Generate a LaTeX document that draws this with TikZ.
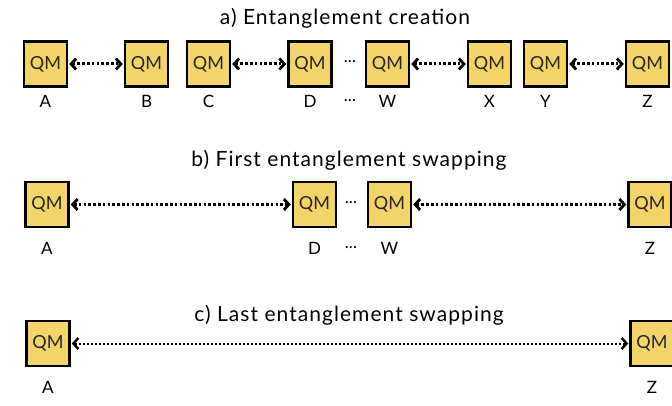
\documentclass[tikz,border=0pt]{standalone}
\usepackage{fontspec}
\setmainfont{Lato}
\newfontfamily\ttlfont[LetterSpace=5]{Lato}
\usetikzlibrary{arrows.meta}
\definecolor{qmfill}{HTML}{F3D46A}
\begin{document}
\begin{tikzpicture}[x=1pt,y=1pt,
  qm/.style={draw=black,line width=2.5pt,fill=qmfill,minimum width=43pt,minimum height=45pt,inner sep=0pt,font=\fontsize{18}{18}\selectfont,text=black!85},
  lab/.style={font=\fontsize{17}{17}\selectfont},
  ttl/.style={font=\ttlfont\fontsize{21}{21}\selectfont},
  link/.style={line width=3pt,dash pattern=on 2.6pt off 2.2pt,{Straight Barb[length=5pt,width=11pt,line width=2.8pt]}-{Straight Barb[length=5pt,width=11pt,line width=2.8pt]},shorten <=1pt,shorten >=1pt},
  thin link/.style={line width=2pt,dash pattern=on 2pt off 2pt,{Straight Barb[length=5pt,width=11pt,line width=2.4pt]}-{Straight Barb[length=5pt,width=11pt,line width=2.4pt]},shorten <=1pt,shorten >=1pt}
]
\useasboundingbox (0,0) rectangle (672,-406);
% row a
\node[ttl] (ta) at (345,-18) {a) Entanglement creation};
\foreach \n/\x in {A/45.5,B/146.5,C/208.5,D/310,W/387.5,X/489.5,Y/545.5,Z/647.5}{
  \node[qm] (a\n) at (\x,-64) {QM};
  \node[lab] (la\n) at (\x,-101) {\n};
}
\node[lab] (adots) at (350,-62) {...};
\node[lab] (aldots) at (350,-101) {...};
\draw[link] (aA) -- (aB);
\draw[link] (aC) -- (aD);
\draw[link] (aW) -- (aX);
\draw[link] (aY) -- (aZ);
% row b
\node[ttl] (tb) at (349,-160) {b) First entanglement swapping};
\foreach \n/\x in {A/47,D/314.5,W/389.5,Z/650}{
  \node[qm] (b\n) at (\x,-204.5) {QM};
  \node[lab] (lb\n) at (\x,-248) {\n};
}
\node[lab] (bdots) at (351,-203) {...};
\node[lab] (bldots) at (351,-248) {...};
\draw[link] (bA) -- (bD);
\draw[link] (bW) -- (bZ);
% row c
\node[ttl] (tc) at (349,-315) {c) Last entanglement swapping};
\foreach \n/\x in {A/48,Z/652}{
  \node[qm] (c\n) at (\x,-343.5) {QM};
  \node[lab] (lc\n) at (\x,-387) {\n};
}
\draw[thin link] (cA) -- (cZ);
\end{tikzpicture}
\end{document}
